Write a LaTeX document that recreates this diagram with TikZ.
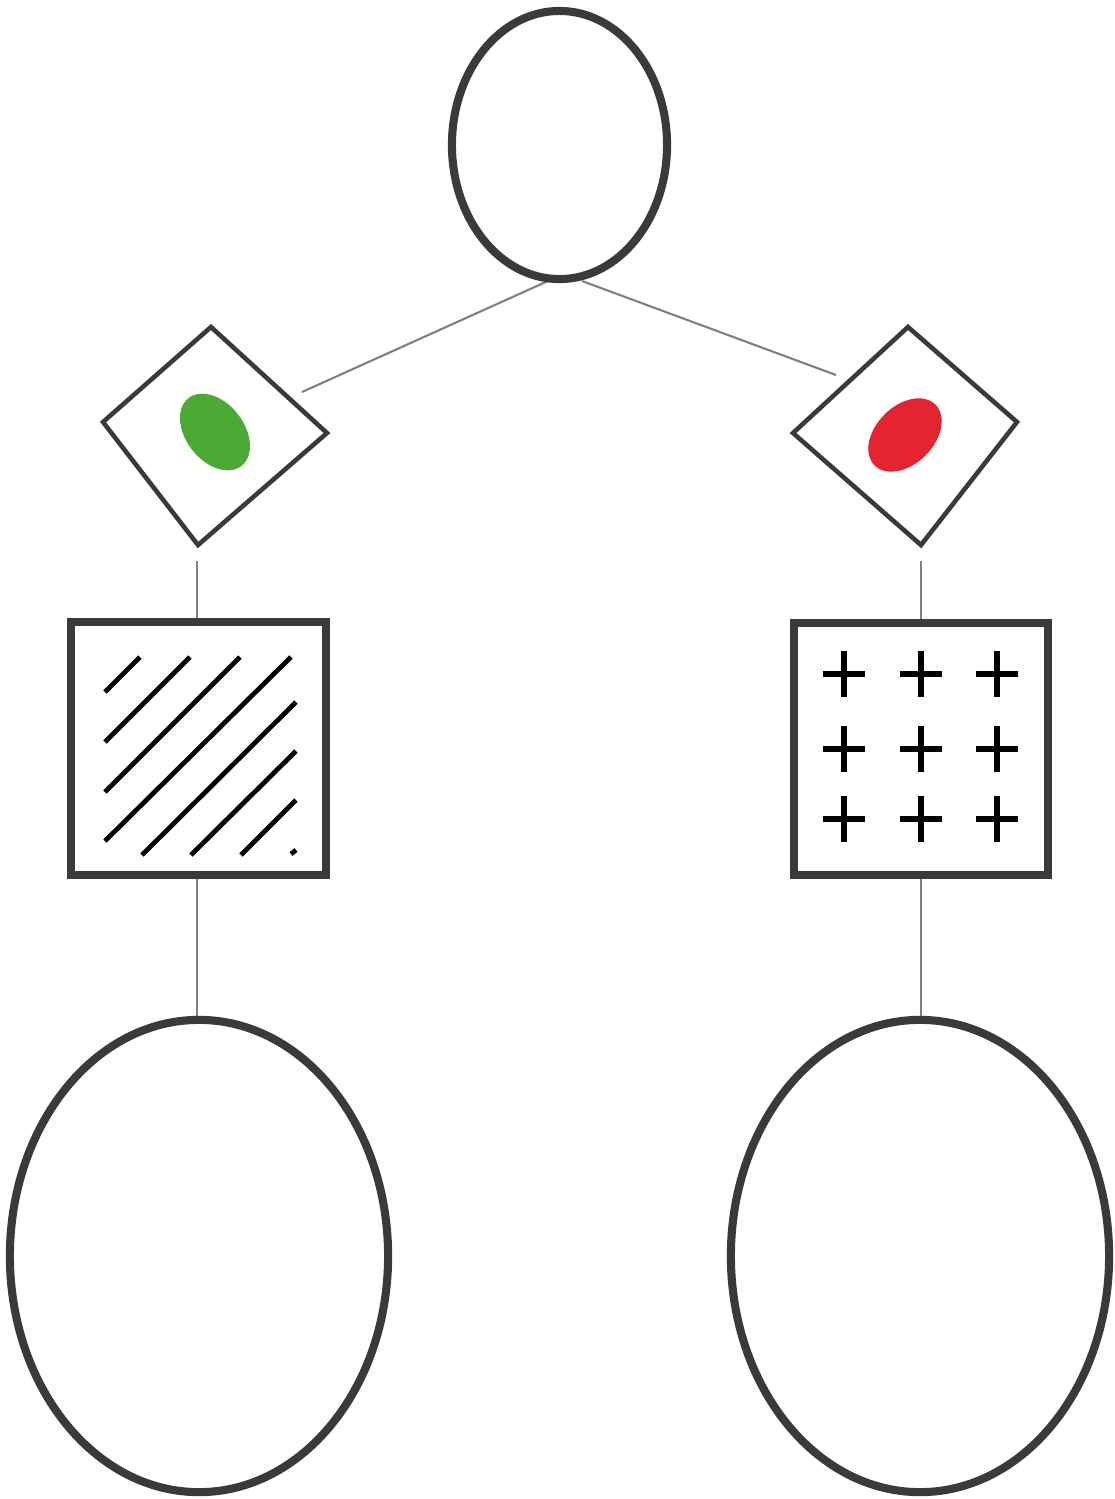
\documentclass[tikz,border=0pt]{standalone}
\usetikzlibrary{shapes.geometric}
\definecolor{outl}{HTML}{3A3A3A}
\definecolor{conn}{HTML}{808080}
\definecolor{leafgreen}{HTML}{4BAA34}
\definecolor{flagred}{HTML}{E42431}
\begin{document}
\begin{tikzpicture}[x=0.01cm,y=-0.01cm,
  oval/.style={draw=outl,line width=2.3pt,ellipse,inner sep=0pt,fill=white},
  boxframe/.style={draw=outl,line width=2.2pt,fill=white},
  diamondframe/.style={draw=outl,line width=1.3pt,fill=white,line join=miter},
  link/.style={draw=conn,line width=0.6pt},
  hatch/.style={draw=black,line width=1.35pt},
  crossmark/.style={draw=black,line width=1.45pt}]
\useasboundingbox (0,0) rectangle (1114,1499);
% connectors (under shapes)
\coordinate (tl) at (548,281);
\coordinate (tr) at (582,281);
\coordinate (dl) at (302,392);
\coordinate (dr) at (836,375);
\coordinate (ldb) at (197,561);
\coordinate (lst) at (197,619);
\coordinate (lsb) at (197,878);
\coordinate (let) at (197,1018);
\coordinate (rdb) at (921,561);
\coordinate (rst) at (921,619);
\coordinate (rsb) at (921,878);
\coordinate (ret) at (921,1018);
\draw[link] (tl) -- (dl);
\draw[link] (tr) -- (dr);
\draw[link] (ldb) -- (lst);
\draw[link] (lsb) -- (let);
\draw[link] (rdb) -- (rst);
\draw[link] (rsb) -- (ret);
% top ellipse
\node[oval,minimum width=2.15cm,minimum height=2.68cm] (top) at (559.5,145) {};
% diamonds
\draw[diamondframe] (211,327) -- (327,433) -- (198,545) -- (103,422) -- cycle;
\draw[diamondframe] (908,327) -- (1017,422) -- (921,545) -- (793,433) -- cycle;
\fill[leafgreen] (215,432) ellipse[x radius=43,y radius=29,rotate=-52];
\fill[flagred] (905,435) ellipse[x radius=43,y radius=29,rotate=45];
% squares
\draw[boxframe] (71,622) rectangle (326,875);
\draw[boxframe] (794,623) rectangle (1048,875);
% hatching
\foreach \a/\b/\c/\d in {105/692/140/657, 105/742/190/657, 105/792/240/657, 105/841/291/657,
  142/855/296/702, 191/855/296/751, 241/855/296/800, 291/854/296/850}
  \draw[hatch] (\a,\b) -- (\c,\d);
% crosses
\foreach \cx in {844,921,997}
  \foreach \cy in {674,749,819}
    \draw[crossmark] (\cx-21,\cy) -- (\cx+21,\cy) (\cx,\cy-23) -- (\cx,\cy+23);
% bottom ellipses
\node[oval,minimum width=3.78cm,minimum height=4.72cm] (bl) at (199,1256) {};
\node[oval,minimum width=3.78cm,minimum height=4.72cm] (br) at (920,1256) {};
\end{tikzpicture}
\end{document}
